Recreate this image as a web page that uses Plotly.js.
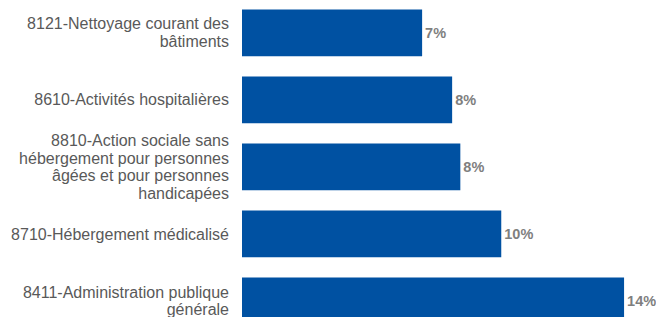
<!DOCTYPE html>
<html>
<head>
<meta charset="utf-8">
<script src="https://cdn.plot.ly/plotly-3.0.1.min.js"></script>
<style>
  html, body { margin: 0; padding: 0; background: #ffffff; }
  #chart { width: 656px; height: 317px; }
</style>
</head>
<body>
<div id="chart"></div>
<script>
const categories = [
  "8121-Nettoyage courant des<br>bâtiments",
  "8610-Activités hospitalières",
  "8810-Action sociale sans<br>hébergement pour personnes<br>âgées et pour personnes<br>handicapées",
  "8710-Hébergement médicalisé",
  "8411-Administration publique<br>générale"
];
const values = [6.6, 7.7, 8.0, 9.5, 14.0];

const trace = {
  type: 'bar',
  orientation: 'h',
  x: values,
  y: categories,
  marker: { color: '#0051A2', line: { width: 0 } },
  texttemplate: '%{x:.0f}%',
  textposition: 'outside',
  cliponaxis: false,
  textfont: { family: 'Liberation Sans, Arial, sans-serif', size: 14.5, color: '#7F7F7F', weight: 'bold' },
  hoverinfo: 'skip'
};

const layout = {
  width: 656,
  height: 317,
  margin: { l: 242, r: 0, t: 0, b: 0, pad: 0 },
  paper_bgcolor: '#ffffff',
  plot_bgcolor: '#ffffff',
  showlegend: false,
  bargap: 0.30,
  font: { family: 'Liberation Sans, Arial, sans-serif', color: '#595959', size: 16 },
  xaxis: {
    range: [0, 15.17],
    visible: false,
    showgrid: false,
    zeroline: false
  },
  yaxis: {
    type: 'category',
    categoryorder: 'array',
    categoryarray: categories,
    range: [4.24, -0.49],
    showgrid: false,
    zeroline: false,
    showline: false,
    ticks: '',
    ticklabelstandoff: 12,
    tickfont: { family: 'Liberation Sans, Arial, sans-serif', size: 16, color: '#595959' }
  }
};

function tightenLines(gd) {
  const ls = 1.12, orig = 1.3;
  gd.querySelectorAll('.yaxislayer-above .ytick text').forEach(function (t) {
    const lines = t.querySelectorAll('tspan.line');
    const n = lines.length;
    if (n < 2) return;
    lines.forEach(function (tsp, i) {
      tsp.setAttribute('dy', (i * ls + (n - 1) * (orig - ls) / 2) + 'em');
    });
  });
}

const gd = document.getElementById('chart');
Plotly.newPlot(gd, [trace], layout, { displayModeBar: false, staticPlot: true })
  .then(function () { tightenLines(gd); });
</script>
</body>
</html>
